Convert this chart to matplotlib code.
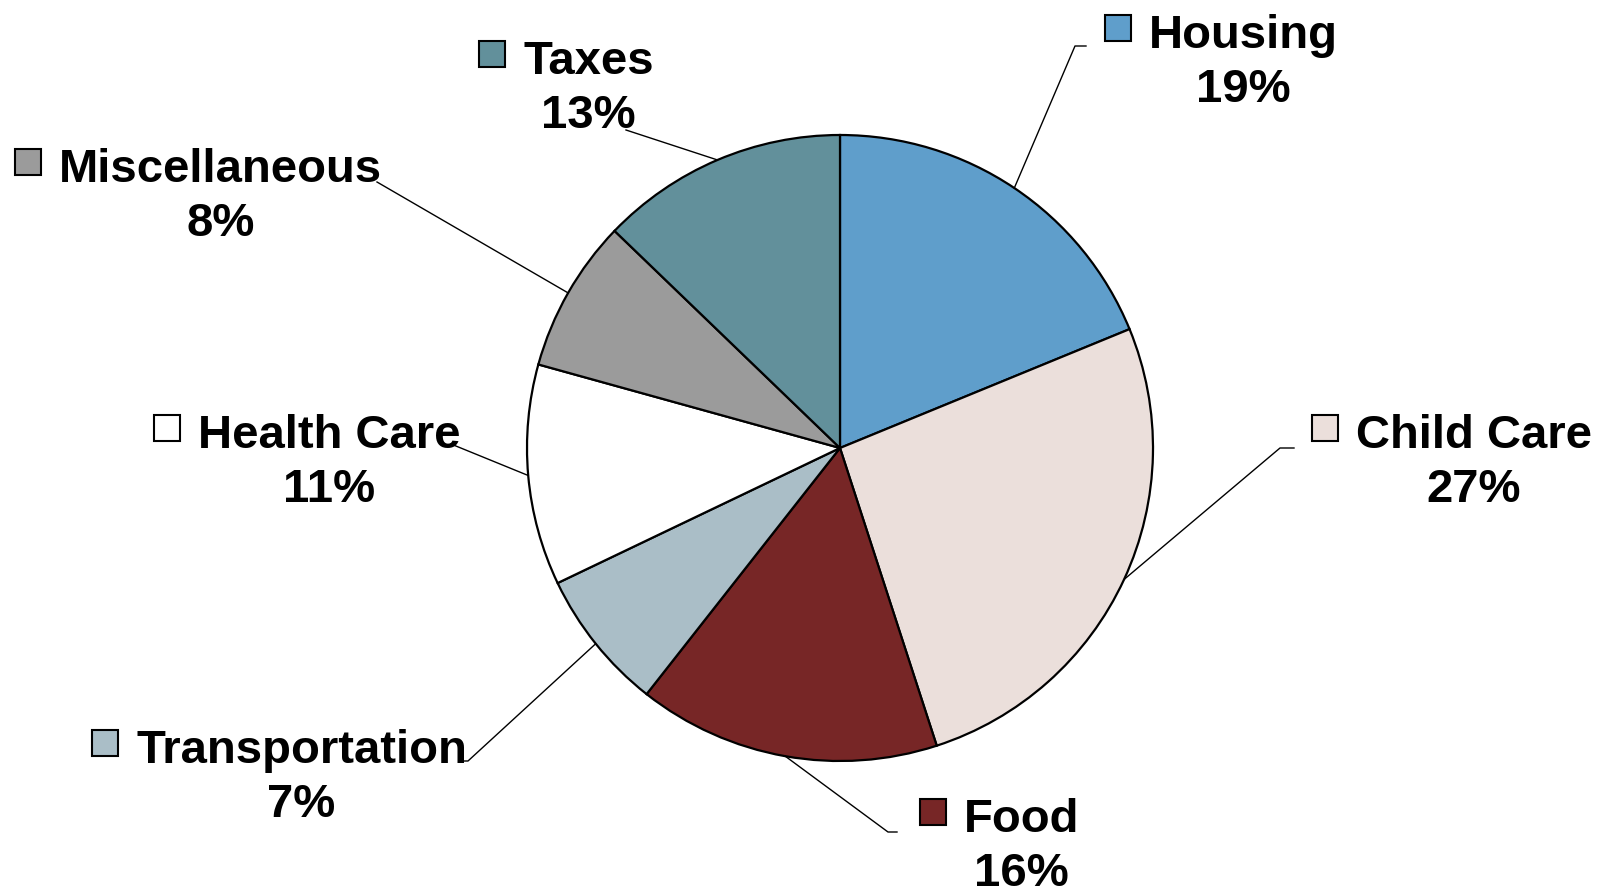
import numpy as np
import matplotlib
matplotlib.use("Agg")
import matplotlib.pyplot as plt
from matplotlib.patches import Rectangle

categories = ["Housing", "Child Care", "Food", "Transportation",
              "Health Care", "Miscellaneous", "Taxes"]
# slice sizes (percent of budget)
shares = [18.8, 26.2, 15.6, 7.3, 11.4, 7.9, 12.8]
# the labels as printed on the chart
pct_labels = ["19%", "27%", "16%", "7%", "11%", "8%", "13%"]
colors = ["#5F9ECB", "#EBDFDB", "#772626", "#AABEC7",
          "#FFFFFF", "#9B9B9B", "#62909B"]

# label layout in figure pixels (origin top-left):
# name left x, name baseline y, leader elbow, leader end
layout = {
    "Housing":        ((1149, 48),  (1075, 46),  (1086, 46)),
    "Child Care":     ((1356, 448), (1280, 448), (1294, 448)),
    "Food":           ((964, 832),  (888, 832),  (897, 832)),
    "Transportation": ((136, 763),  (468, 761),  (459, 761)),
    "Health Care":    ((198, 448),  (451, 444),  (451, 444)),
    "Miscellaneous":  ((59, 182),   (377, 182),  (377, 182)),
    "Taxes":          ((523, 74),   (626, 130),  (626, 130)),
}

W, H = 1608, 892
CX, CY, R = 840, 448, 313

fig = plt.figure(figsize=(W / 100, H / 100), dpi=100)
ax = fig.add_axes([0, 0, 1, 1])

wedges, _ = ax.pie(shares, colors=colors, startangle=90, counterclock=False,
                   radius=1, center=(0, 0),
                   wedgeprops=dict(edgecolor="black", linewidth=1.6))
ax.set_aspect("auto")
ax.set_xlim(-CX / R, (W - CX) / R)
ax.set_ylim(-(H - CY) / R, CY / R)
ax.axis("off")


def px(x, y):
    return ((x - CX) / R, (CY - y) / R)


font = dict(family="Liberation Sans", weight="bold", fontsize=34)
renderer = fig.canvas.get_renderer()

for w, name, pct, col in zip(wedges, categories, pct_labels, colors):
    (nx, ny), elbow, end = layout[name]
    mid = np.deg2rad((w.theta1 + w.theta2) / 2)
    start = (np.cos(mid), np.sin(mid))
    ex, ey = px(*elbow)
    fx, fy = px(*end)
    ax.plot([start[0], ex, fx], [start[1], ey, fy], color="black", lw=1.0,
            zorder=1)

    t = ax.text(*px(nx, ny), name, ha="left", va="baseline", zorder=3, **font)
    bb = t.get_window_extent(renderer)
    cx_px = (bb.x0 + bb.x1) / 2  # display pixels, same as figure pixels
    ax.text(*px(cx_px, ny + 54), pct, ha="center", va="baseline", zorder=3,
            **font)

    sq = 26 / R
    sx, sy = px(nx - 44, ny - 20 + 13)
    ax.add_patch(Rectangle((sx, sy), sq, sq, facecolor=col,
                           edgecolor="black", linewidth=1.5, zorder=3))

fig.savefig("out.png", dpi=100, facecolor="white")
